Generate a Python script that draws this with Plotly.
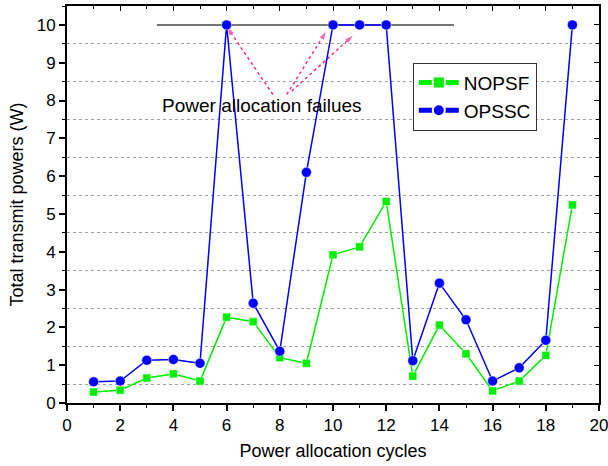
import plotly.graph_objects as go

cycles = list(range(1, 20))
nopsf = [0.29, 0.34, 0.66, 0.77, 0.58, 2.27, 2.15, 1.20, 1.05, 3.92, 4.13, 5.33,
         0.71, 2.06, 1.30, 0.32, 0.58, 1.26, 5.24]
opssc = [0.56, 0.58, 1.13, 1.15, 1.05, 10.0, 2.64, 1.37, 6.10, 10.0, 10.0, 10.0,
         1.12, 3.17, 2.20, 0.58, 0.93, 1.66, 10.0]

limit_x = [3.38, 14.55]
limit_y = [10.0, 10.0]

note_text = "Power allocation failues"
note_pos = (7.32, 7.88)
arrow_tails = [(7.74, 8.16), (8.26, 8.16), (8.45, 8.25)]
arrow_heads = [(6.03, 9.93), (9.73, 9.81), (10.74, 9.71)]

FONT = "Liberation Sans, Arial, sans-serif"
PINK = "#FF2A8A"

fig = go.Figure()

fig.add_trace(go.Scatter(x=limit_x, y=limit_y, mode="lines",
                         line=dict(color="#4a4a4a", width=1.5),
                         showlegend=False, hoverinfo="skip"))

for (tx, ty), (hx, hy) in zip(arrow_tails, arrow_heads):
    fig.add_trace(go.Scatter(x=[tx, hx], y=[ty, hy], mode="lines+markers",
                             line=dict(color=PINK, width=1.5, dash="dot"),
                             marker=dict(symbol=["circle", "arrow"], size=[0, 8],
                                         angleref="previous", color=PINK,
                                         line=dict(width=0)),
                             showlegend=False, hoverinfo="skip"))

fig.add_trace(go.Scatter(x=cycles, y=nopsf, mode="lines+markers", name="NOPSF",
                         line=dict(color="#00EE00", width=1.5),
                         marker=dict(symbol="square", size=8, color="#00EE00",
                                     line=dict(color="white", width=0.5))))
fig.add_trace(go.Scatter(x=cycles, y=opssc, mode="lines+markers", name="OPSSC",
                         line=dict(color="#0000FF", width=1.5),
                         marker=dict(symbol="circle", size=10, color="#0000FF",
                                     line=dict(color="white", width=0.5))))

# invisible trace for mirrored axes
fig.add_trace(go.Scatter(x=[10], y=[5], xaxis="x2", yaxis="y2", mode="markers",
                         marker=dict(size=1, opacity=0), showlegend=False,
                         hoverinfo="skip"))

fig.add_annotation(x=note_pos[0], y=note_pos[1], text=note_text, showarrow=False,
                   font=dict(size=19, color="black", family=FONT))

axis_common = dict(showline=True, linecolor="black", linewidth=2, mirror=True,
                   ticks="outside", ticklen=6, tickwidth=1.5, tickcolor="black",
                   zeroline=False, showgrid=False, automargin=False,
                   ticklabeloverflow="allow",
                   tickfont=dict(size=17, color="black", family=FONT))

fig.update_layout(
    width=608, height=466,
    margin=dict(l=67, r=9, t=6, b=63),
    paper_bgcolor="white", plot_bgcolor="white",
    font=dict(family=FONT, color="black"),
    xaxis=dict(range=[0, 20], dtick=2, tick0=0,
               title=dict(text="Power allocation cycles", font=dict(size=18), standoff=10),
               minor=dict(dtick=1, tick0=0, ticks="outside", ticklen=3,
                          tickwidth=1, tickcolor="black", showgrid=False),
               **axis_common),
    yaxis=dict(range=[0, 10.5], dtick=1, tick0=0,
               title=dict(text="Total transmit powers (W)", font=dict(size=18), standoff=8),
               minor=dict(dtick=1, tick0=0.5, ticks="outside", ticklen=3,
                          tickwidth=1, tickcolor="black", showgrid=True,
                          gridcolor="#a0a0a0", griddash="dot", gridwidth=1),
               **axis_common),
    xaxis2=dict(overlaying="x", side="top", range=[0, 20], dtick=2, tick0=0,
                showline=False, ticks="inside",
                ticklen=5, tickwidth=1, tickcolor="black", showticklabels=False,
                showgrid=False, zeroline=False, automargin=False,
                minor=dict(dtick=1, tick0=0, ticks="inside", ticklen=3, tickcolor="black")),
    yaxis2=dict(overlaying="y", side="right", range=[0, 10.5], dtick=1, tick0=0,
                showline=False, ticks="inside",
                ticklen=5, tickwidth=1, tickcolor="black", showticklabels=False,
                showgrid=False, zeroline=False, automargin=False,
                minor=dict(dtick=1, tick0=0.5, ticks="inside", ticklen=3, tickcolor="black")),
    legend=dict(x=0.65, y=0.857, xanchor="left", yanchor="top",
                bgcolor="white", bordercolor="#333333", borderwidth=1,
                font=dict(size=19, color="black", family=FONT),
                tracegroupgap=0, itemsizing="constant", itemwidth=40),
    showlegend=True,
)

fig.write_html("out.html", config={"displayModeBar": False},
               post_script="document.body.style.margin='0';document.body.style.padding='0';")
